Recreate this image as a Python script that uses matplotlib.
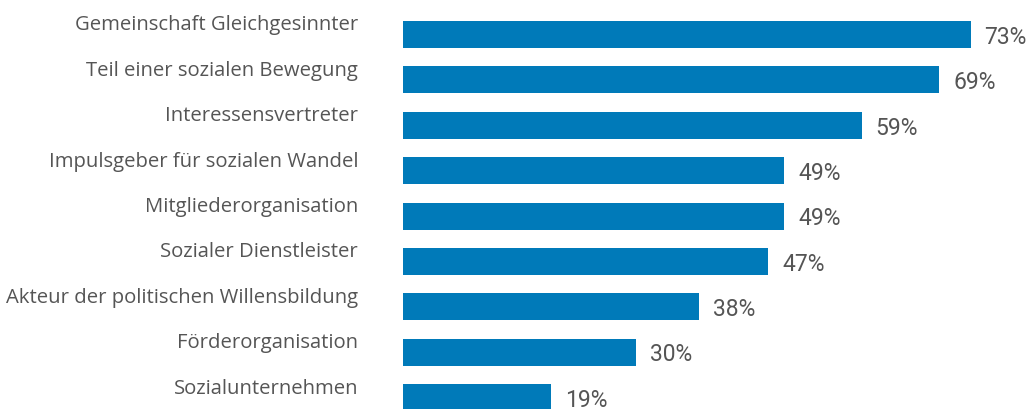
import matplotlib.pyplot as plt

categories = [
    'Gemeinschaft Gleichgesinnter',
    'Teil einer sozialen Bewegung',
    'Interessensvertreter',
    'Impulsgeber für sozialen Wandel',
    'Mitgliederorganisation',
    'Sozialer Dienstleister',
    'Akteur der politischen Willensbildung',
    'Förderorganisation',
    'Sozialunternehmen',
]
values = [73, 69, 59, 49, 49, 47, 38, 30, 19]

bar_color = '#007ab9'
text_color = '#555555'
plt.rcParams['font.family'] = ['Open Sans', 'DejaVu Sans']

fig = plt.figure(figsize=(10.3, 4.09), dpi=100)
# axes start where the bars start, labels are drawn outside it
ax = fig.add_axes([403.3 / 1030, 0, 1 - 403.3 / 1030, 1])

ypos = list(range(len(values)))
ax.barh(ypos, values, height=0.595, color=bar_color)

ax.set_xlim(0, 626.7 / 7.77)
ax.set_ylim(8.25, -0.76)
ax.axis('off')

for i, (cat, v) in enumerate(zip(categories, values)):
    ax.text(-5.83, i - 0.2, cat, ha='right', va='center',
            fontsize=14.6, color=text_color, clip_on=False)
    ax.text(v + 1.8, i + 0.06, '{}%'.format(v), ha='left', va='center',
            fontsize=16.5, color=text_color, family=['Roboto', 'DejaVu Sans'],
            clip_on=False)

fig.savefig('out.png', dpi=100)
